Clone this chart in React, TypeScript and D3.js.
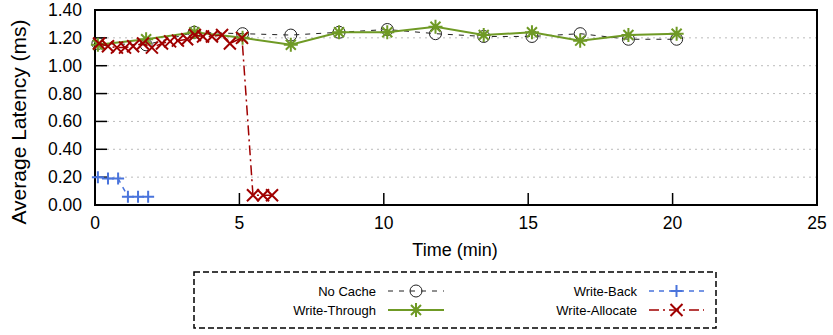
import React from "react";
import * as d3 from "d3";

// Measured latency per cache policy over time
const noCacheTime = [0.1, 1.77, 3.44, 5.11, 6.78, 8.45, 10.12, 11.79, 13.46, 15.13, 16.8, 18.47, 20.14];
const noCacheLatency = [1.16, 1.15, 1.24, 1.23, 1.22, 1.24, 1.26, 1.23, 1.21, 1.21, 1.23, 1.19, 1.19];

const writeThroughTime = [0.1, 1.77, 3.44, 5.11, 6.78, 8.45, 10.12, 11.79, 13.46, 15.13, 16.8, 18.47, 20.14];
const writeThroughLatency = [1.15, 1.19, 1.24, 1.2, 1.15, 1.24, 1.24, 1.28, 1.22, 1.24, 1.18, 1.22, 1.23];

const writeBackTime = [0.1, 0.45, 0.8, 1.14, 1.49, 1.84];
const writeBackLatency = [0.2, 0.19, 0.19, 0.06, 0.06, 0.06];

const writeAllocateTime = [0.14, 0.45, 0.76, 1.04, 1.32, 1.66, 1.97, 2.32, 2.6, 2.87, 3.19, 3.46, 3.74, 4.05, 4.4, 4.67, 5.09, 5.47, 5.82, 6.13];
const writeAllocateLatency = [1.16, 1.14, 1.13, 1.13, 1.14, 1.16, 1.13, 1.16, 1.175, 1.18, 1.19, 1.22, 1.21, 1.21, 1.22, 1.16, 1.2, 0.07, 0.07, 0.07];

const xTicks = [0, 5, 10, 15, 20, 25];
const yTicks = [0, 0.2, 0.4, 0.6, 0.8, 1.0, 1.2, 1.4];

const W = 833;
const H = 335;
const plot = { left: 95, right: 817, top: 10, bottom: 205 };
const FONT = "'Liberation Sans', Arial, sans-serif";

type Marker = "circle" | "star" | "plus" | "cross";

function markerPath(kind: Marker, cx: number, cy: number): string {
  if (kind === "plus") {
    const s = 6;
    return `M${cx - s},${cy}H${cx + s}M${cx},${cy - s}V${cy + s}`;
  }
  if (kind === "cross") {
    const s = 6;
    return `M${cx - s},${cy - s}L${cx + s},${cy + s}M${cx - s},${cy + s}L${cx + s},${cy - s}`;
  }
  if (kind === "star") {
    const s = 7;
    const d = 5;
    return (
      `M${cx - s},${cy}H${cx + s}M${cx},${cy - s}V${cy + s}` +
      `M${cx - d},${cy - d}L${cx + d},${cy + d}M${cx - d},${cy + d}L${cx + d},${cy - d}`
    );
  }
  return "";
}

type Series = {
  name: string;
  time: number[];
  latency: number[];
  color: string;
  width: number;
  dash?: string;
  marker: Marker;
  markerWidth: number;
};

const series: Series[] = [
  { name: "No Cache", time: noCacheTime, latency: noCacheLatency, color: "#222", width: 1, dash: "5,6", marker: "circle", markerWidth: 1 },
  { name: "Write-Through", time: writeThroughTime, latency: writeThroughLatency, color: "#6f9a25", width: 2, marker: "star", markerWidth: 2 },
  { name: "Write-Back", time: writeBackTime, latency: writeBackLatency, color: "#4a74dc", width: 1.5, dash: "5,5", marker: "plus", markerWidth: 2 },
  { name: "Write-Allocate", time: writeAllocateTime, latency: writeAllocateLatency, color: "#a00000", width: 1.5, dash: "10,4,2,4", marker: "cross", markerWidth: 2 },
];

function MarkerShape({ kind, x, y, color, width }: { kind: Marker; x: number; y: number; color: string; width: number }) {
  if (kind === "circle") {
    return <circle cx={x} cy={y} r={6} fill="none" stroke={color} strokeWidth={width} />;
  }
  return <path d={markerPath(kind, x, y)} stroke={color} strokeWidth={width} fill="none" />;
}

export default function App() {
  const x = d3.scaleLinear().domain([0, 25]).range([plot.left, plot.right]);
  const y = d3.scaleLinear().domain([0, 1.4]).range([plot.bottom, plot.top]);

  const line = d3
    .line<[number, number]>()
    .x((d) => x(d[0]))
    .y((d) => y(d[1]));

  // Key layout: two columns, two rows
  const keyRows = [291, 310];
  const keyCols = [
    { textRight: 376, lineFrom: 388, lineTo: 444 },
    { textRight: 637, lineFrom: 649, lineTo: 704 },
  ];
  const keyPlacement: Record<string, [number, number]> = {
    "No Cache": [0, 0],
    "Write-Through": [0, 1],
    "Write-Back": [1, 0],
    "Write-Allocate": [1, 1],
  };

  return (
    <svg width={W} height={H} style={{ position: "absolute", left: 0, top: 0, background: "#fff" }} fontFamily={FONT}>
      {/* horizontal grid */}
      {yTicks.slice(1, -1).map((t) => (
        <line key={`g${t}`} x1={plot.left} x2={plot.right} y1={y(t)} y2={y(t)} stroke="#bbb" strokeWidth={1} strokeDasharray="2,4" />
      ))}

      {/* tick marks pointing inward */}
      {yTicks.map((t) => (
        <line key={`yt${t}`} x1={plot.left} x2={plot.left + 12} y1={y(t)} y2={y(t)} stroke="#000" strokeWidth={1.5} />
      ))}
      {xTicks.map((t) => (
        <line key={`xt${t}`} x1={x(t)} x2={x(t)} y1={plot.bottom} y2={plot.bottom - 12} stroke="#000" strokeWidth={1.5} />
      ))}

      {/* frame */}
      <rect x={plot.left} y={plot.top} width={plot.right - plot.left} height={plot.bottom - plot.top} fill="none" stroke="#000" strokeWidth={2} />

      {/* tick labels */}
      {yTicks.map((t) => (
        <text key={`yl${t}`} x={82} y={y(t)} textAnchor="end" dominantBaseline="central" fontSize={17.5} fill="#000">
          {t.toFixed(2)}
        </text>
      ))}
      {xTicks.map((t) => (
        <text key={`xl${t}`} x={x(t)} y={223} textAnchor="middle" dominantBaseline="central" fontSize={17.5} fill="#000">
          {t}
        </text>
      ))}

      {/* axis titles */}
      <text x={455} y={250} textAnchor="middle" dominantBaseline="central" fontSize={18} fill="#000">
        Time (min)
      </text>
      <text
        transform={`translate(18,122) rotate(-90)`}
        textAnchor="middle"
        dominantBaseline="central"
        fontSize={21}
        fill="#000"
      >
        Average Latency (ms)
      </text>

      {/* data */}
      {series.map((s) => {
        const pts = s.time.map((t, i) => [t, s.latency[i]] as [number, number]);
        return (
          <g key={s.name}>
            <path d={line(pts) ?? ""} fill="none" stroke={s.color} strokeWidth={s.width} strokeDasharray={s.dash} />
            {pts.map((p, i) => (
              <MarkerShape key={i} kind={s.marker} x={x(p[0])} y={y(p[1])} color={s.color} width={s.markerWidth} />
            ))}
          </g>
        );
      })}

      {/* key */}
      <rect x={194} y={272} width={522} height={56} fill="none" stroke="#000" strokeWidth={1.5} strokeDasharray="6,3" />
      {series.map((s) => {
        const [c, r] = keyPlacement[s.name];
        const col = keyCols[c];
        const ky = keyRows[r];
        const mx = (col.lineFrom + col.lineTo) / 2;
        return (
          <g key={`k${s.name}`}>
            <text x={col.textRight} y={ky} textAnchor="end" dominantBaseline="central" fontSize={13} fill="#000">
              {s.name}
            </text>
            <line x1={col.lineFrom} x2={col.lineTo} y1={ky} y2={ky} stroke={s.color} strokeWidth={s.width} strokeDasharray={s.dash} />
            <MarkerShape kind={s.marker} x={mx} y={ky} color={s.color} width={s.markerWidth} />
          </g>
        );
      })}
    </svg>
  );
}
